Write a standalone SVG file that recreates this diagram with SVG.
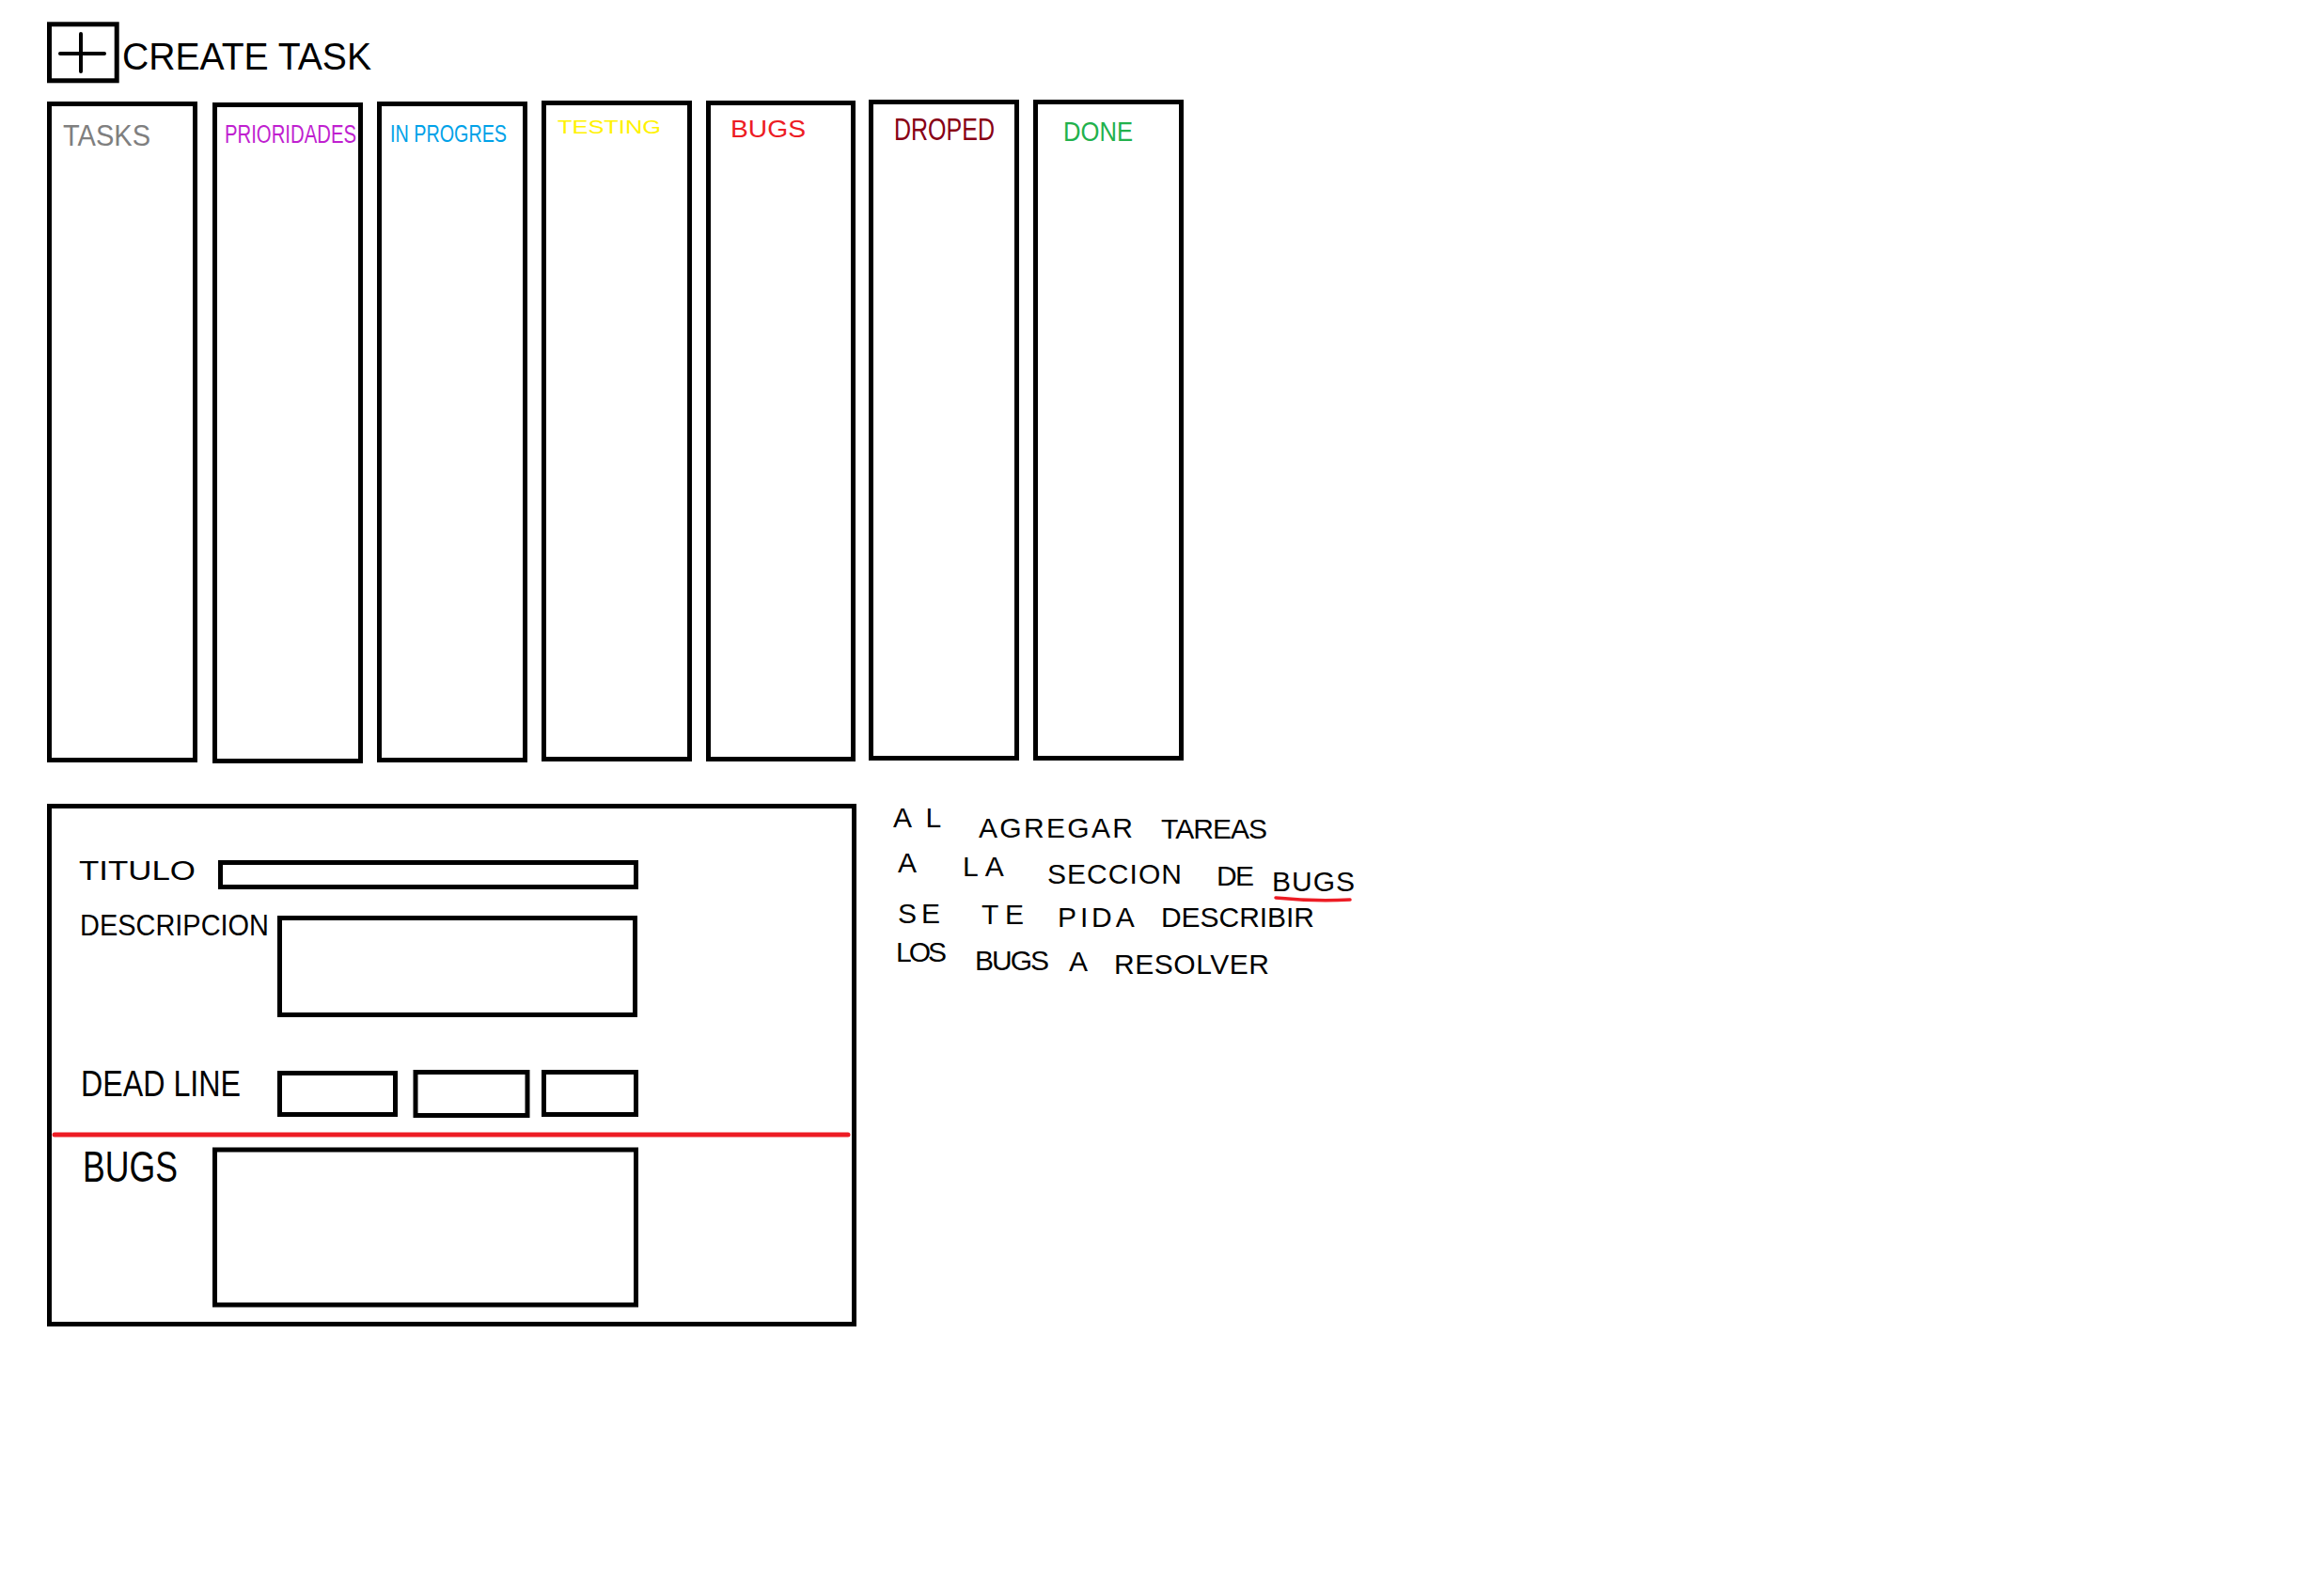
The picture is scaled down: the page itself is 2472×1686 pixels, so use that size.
<svg xmlns="http://www.w3.org/2000/svg" width="2472" height="1686" viewBox="0 0 2472 1686">
  <style>
    .frame { fill: #ffffff; stroke: #000000; stroke-width: 5; }
    .pen { fill: none; stroke: #000000; stroke-width: 4; stroke-linecap: round; }
    .hand { font-family: "Liberation Sans", "DejaVu Sans", sans-serif; font-weight: normal; fill: #000000; }
    .col-title { font-family: "Liberation Sans", "DejaVu Sans", sans-serif; }
  </style>

  <rect x="0" y="0" width="2472" height="1686" fill="#ffffff"/>

  <!-- "create task" button -->
  <g id="create-task">
    <rect class="frame" x="52.5" y="25.8" width="71.7" height="60"/>
    <line class="pen" x1="64" y1="57" x2="111" y2="57"/>
    <line class="pen" x1="86" y1="36" x2="86" y2="76"/>
    <text class="hand" x="130" y="74" font-size="40" textLength="265" lengthAdjust="spacingAndGlyphs">CREATE TASK</text>
  </g>

  <!-- board columns -->
  <g id="col-tasks">
    <rect class="frame" x="52.5" y="110.5" width="155" height="698"/>
    <text class="col-title" x="67" y="155" font-size="31" fill="#7f7f7f" textLength="93" lengthAdjust="spacingAndGlyphs">TASKS</text>
  </g>
  <g id="col-prioridades">
    <rect class="frame" x="228.5" y="111.5" width="155" height="698"/>
    <text class="col-title" x="239" y="152" font-size="27" fill="#c01fd0" textLength="140" lengthAdjust="spacingAndGlyphs">PRIORIDADES</text>
  </g>
  <g id="col-in-progres">
    <rect class="frame" x="403.5" y="110.5" width="155" height="698"/>
    <text class="col-title" x="415" y="151" font-size="26" fill="#00a2e8" textLength="124" lengthAdjust="spacingAndGlyphs">IN PROGRES</text>
  </g>
  <g id="col-testing">
    <rect class="frame" x="578.5" y="109.5" width="155" height="698"/>
    <text class="col-title" x="593" y="142" font-size="20" fill="#fff200" textLength="110" lengthAdjust="spacingAndGlyphs">TESTING</text>
  </g>
  <g id="col-bugs">
    <rect class="frame" x="753.5" y="109.5" width="154" height="698"/>
    <text class="col-title" x="777" y="146" font-size="26" fill="#ed1c24" textLength="80" lengthAdjust="spacingAndGlyphs">BUGS</text>
  </g>
  <g id="col-droped">
    <rect class="frame" x="926.5" y="108.5" width="155" height="698"/>
    <text class="col-title" x="951" y="149" font-size="33" fill="#880015" textLength="107" lengthAdjust="spacingAndGlyphs">DROPED</text>
  </g>
  <g id="col-done">
    <rect class="frame" x="1101.5" y="108.5" width="155" height="698"/>
    <text class="col-title" x="1131" y="150" font-size="30" fill="#22b14c" textLength="74" lengthAdjust="spacingAndGlyphs">DONE</text>
  </g>

  <!-- new task form -->
  <g id="task-form">
    <rect class="frame" x="52.5" y="857.5" width="856" height="551"/>

    <g id="field-titulo">
      <text class="hand" x="84" y="936" font-size="30" textLength="124" lengthAdjust="spacingAndGlyphs">TITULO</text>
      <rect class="frame" x="234.5" y="917.5" width="442" height="26"/>
    </g>

    <g id="field-descripcion">
      <text class="hand" x="85" y="995" font-size="32" textLength="201" lengthAdjust="spacingAndGlyphs">DESCRIPCION</text>
      <rect class="frame" x="297.5" y="976.5" width="378" height="103"/>
    </g>

    <g id="field-deadline">
      <text class="hand" x="86" y="1166" font-size="38" textLength="170" lengthAdjust="spacingAndGlyphs">DEAD LINE</text>
      <rect class="frame" x="297.5" y="1141.5" width="123" height="44"/>
      <rect class="frame" x="442" y="1140.5" width="119" height="46"/>
      <rect class="frame" x="578.5" y="1140.5" width="98" height="45"/>
    </g>

    <line x1="58" y1="1207" x2="902" y2="1207" stroke="#ed1c24" stroke-width="5" stroke-linecap="round"/>

    <g id="field-bugs">
      <text class="hand" x="88" y="1257" font-size="46" textLength="101" lengthAdjust="spacingAndGlyphs">BUGS</text>
      <rect class="frame" x="228.5" y="1223" width="448" height="165"/>
    </g>
  </g>

  <!-- side note -->
  <g id="bugs-note">
    <text class="hand" font-size="30" lengthAdjust="spacingAndGlyphs">
      <tspan x="950" y="880" textLength="50">AL</tspan>
      <tspan x="1041" y="891" textLength="164">AGREGAR</tspan>
      <tspan x="1235" y="892" textLength="113">TAREAS</tspan>
    </text>
    <text class="hand" font-size="30" lengthAdjust="spacingAndGlyphs">
      <tspan x="955" y="928" textLength="18">A</tspan>
      <tspan x="1024" y="932" textLength="42">LA</tspan>
      <tspan x="1114" y="940" textLength="143">SECCION</tspan>
      <tspan x="1294" y="942" textLength="40">DE</tspan>
      <tspan x="1353" y="948" textLength="88">BUGS</tspan>
    </text>
    <path d="M1357 955 Q1397 959 1436 957" fill="none" stroke="#ed1c24" stroke-width="3.5" stroke-linecap="round"/>
    <text class="hand" font-size="30" lengthAdjust="spacingAndGlyphs">
      <tspan x="955" y="982" textLength="45">SE</tspan>
      <tspan x="1044" y="983" textLength="45">TE</tspan>
      <tspan x="1125" y="986" textLength="80">PIDA</tspan>
      <tspan x="1235" y="986" textLength="163">DESCRIBIR</tspan>
    </text>
    <text class="hand" font-size="30" lengthAdjust="spacingAndGlyphs">
      <tspan x="953" y="1023" textLength="54">LOS</tspan>
      <tspan x="1037" y="1032" textLength="79">BUGS</tspan>
      <tspan x="1137" y="1033" textLength="25">A</tspan>
      <tspan x="1185" y="1036" textLength="165">RESOLVER</tspan>
    </text>
  </g>
</svg>
